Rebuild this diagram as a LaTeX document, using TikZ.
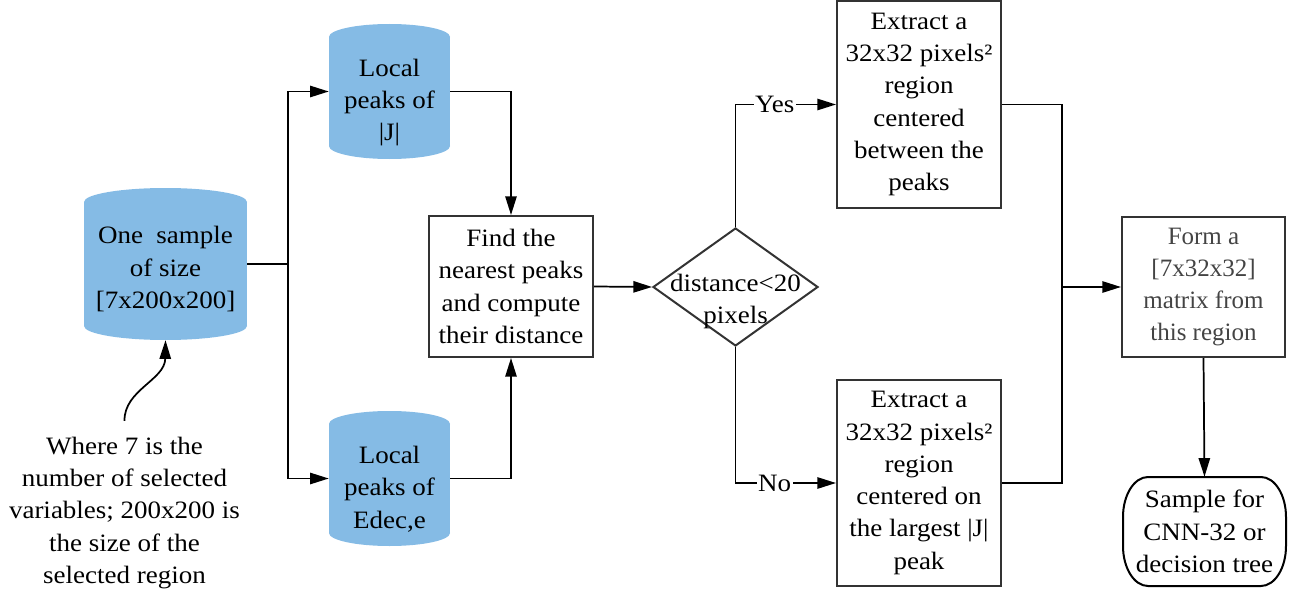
\documentclass[tikz,border=0pt]{standalone}
\usepackage{fontspec}
\setmainfont{Liberation Serif}
\newfontfamily\wideserif[FakeStretch=1.08]{Liberation Serif}
\usetikzlibrary{shapes.geometric,arrows.meta}
\definecolor{cylblue}{RGB}{133,187,229}
\definecolor{bordergray}{RGB}{51,51,51}
\definecolor{formgray}{RGB}{68,68,68}
\begin{document}
\begin{tikzpicture}[x=0.75pt,y=-0.75pt,
  txt/.style={font=\wideserif\fontsize{18.75pt}{24.2pt}\selectfont, align=center, text=black},
  plaintxt/.style={font=\rmfamily\fontsize{18.75pt}{24.2pt}\selectfont},
  cylnode/.style={inner sep=0pt, draw=none},
  box/.style={txt, draw=bordergray, line width=1.5pt, inner sep=0pt},
  conn/.style={line width=1.3pt, black},
  arr/.style={conn, -{Triangle[length=14pt,width=8.5pt]}},
  lbl/.style={txt, fill=white, inner xsep=1pt, inner ysep=0pt},
]
\useasboundingbox (0,0) rectangle (1293,592);

% cylinder bodies
\fill[cylblue] (84,202) rectangle (247,326);
\fill[cylblue] (165.5,202) ellipse[x radius=81.5, y radius=14];
\fill[cylblue] (165.5,326) ellipse[x radius=81.5, y radius=14];
\fill[cylblue] (329,37) rectangle (450,146);
\fill[cylblue] (389.5,37) ellipse[x radius=60.5, y radius=13];
\fill[cylblue] (389.5,146) ellipse[x radius=60.5, y radius=13];
\fill[cylblue] (329,424) rectangle (450,533);
\fill[cylblue] (389.5,424) ellipse[x radius=60.5, y radius=13];
\fill[cylblue] (389.5,533) ellipse[x radius=60.5, y radius=13];

% nodes
\node[cylnode, minimum width=122.25pt, minimum height=114pt,
  label={[txt, yshift=-3.75pt]center:{One\ \ sample\\of size\\{[7x200x200]}}}] (A) at (165.5,264) {};
\node[cylnode, minimum width=90.75pt, minimum height=101.25pt,
  label={[txt, yshift=-8.25pt]center:{Local\\peaks of\\|J|}}] (B) at (389.5,91.5) {};
\node[cylnode, minimum width=90.75pt, minimum height=101.25pt,
  label={[txt, yshift=-7.9pt]center:{Local\\peaks of\\Edec,e}}] (C) at (389.5,478.5) {};

\node[box, minimum width=123pt, minimum height=105.75pt] (Find) at (511,286.5)
  {Find the\\nearest peaks\\and compute\\their distance};

\node[diamond, draw=bordergray, line width=1.5pt, inner sep=0pt,
  minimum width=123.75pt, minimum height=88.5pt,
  label={[txt, yshift=-11pt]center:{distance<20\\pixels}}] (Dia) at (735.5,287) {};

\node[box, minimum width=123pt, minimum height=155.25pt] (D) at (919,104.5)
  {Extract a\\32x32 pixels²\\region\\centered\\between the\\peaks};
\node[box, minimum width=123pt, minimum height=154.5pt] (E) at (919,483)
  {Extract a\\32x32 pixels²\\region\\centered on\\the largest |J|\\peak};

\node[box, plaintxt, text=formgray, minimum width=122.25pt, minimum height=105pt] (Form) at (1203.5,287)
  {Form a\\{[7x32x32]}\\matrix from\\this region};

\node[txt, inner sep=0pt, minimum width=122.25pt, minimum height=81.75pt] (G) at (1204.5,531.5)
  {Sample for\\CNN-32 or\\decision tree};
\draw[draw=black, line width=1.5pt]
  (1148,477) -- (1261,477) arc[start angle=270,end angle=360,x radius=25,y radius=40]
  -- (1286,546) arc[start angle=0,end angle=90,x radius=25,y radius=40]
  -- (1148,586) arc[start angle=90,end angle=180,x radius=25,y radius=40]
  -- (1123,517) arc[start angle=180,end angle=270,x radius=25,y radius=40] -- cycle;

\node[txt, inner sep=0pt] (Note) at (124.5,513)
  {Where 7 is the\\number of selected\\variables; 200x200 is\\the size of the\\selected region};

% connectors
\coordinate (s1) at (288,264);
\coordinate (m) at (1062,287);
\draw[conn] (A.east) -- (s1);
\draw[arr] (s1) |- (B.west);
\draw[arr] (s1) |- (C.west);
\draw[arr] (B.east) -| (Find.north);
\draw[arr] (C.east) -| (Find.south);
\draw[arr] (Find.east) -- (Dia.west);
\draw[arr] (Dia.north) |- node[lbl, pos=0.695] {Yes} (D.west);
\draw[arr] (Dia.south) |- node[lbl, pos=0.695] {No} (E.west);
\draw[conn] (D.east) -| (m);
\draw[conn] (E.east) -| (m);
\draw[arr] (m) -- (Form.west);
\draw[arr] (Form.south) -- (G.north);
\draw[arr] ([yshift=12pt]Note.north) .. controls (124,390) and (165,380) .. (A.south);
\end{tikzpicture}
\end{document}
